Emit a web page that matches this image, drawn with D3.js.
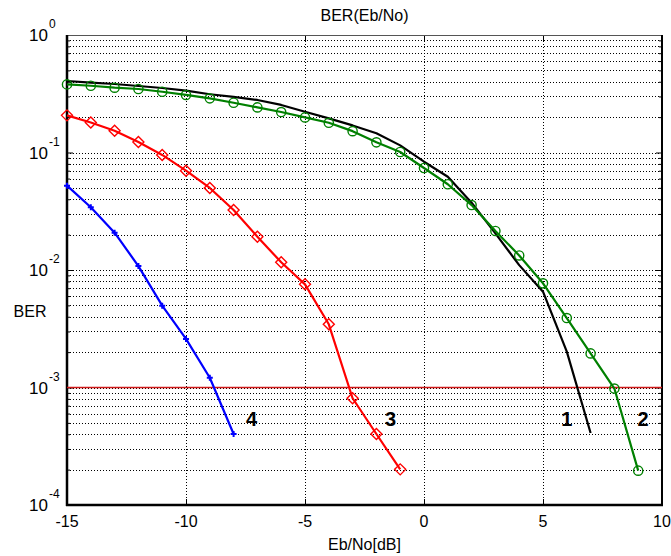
<!DOCTYPE html>
<html>
<head>
<meta charset="utf-8">
<script src="https://cdn.jsdelivr.net/npm/d3@7"></script>
<style>
  html, body { margin: 0; padding: 0; background: #fff; }
  svg { display: block; font-family: "Liberation Sans", Arial, Helvetica, sans-serif; }
</style>
</head>
<body>
<svg id="chart" width="671" height="556"></svg>
<script>
// ---- data ----
const ebno1 = [-15,-14,-13,-12,-11,-10,-9,-8,-7,-6,-5,-4,-3,-2,-1,0,1,2,3,4,5,6,7];
const ber1  = [0.406,0.394,0.383,0.368,0.354,0.336,0.313,0.297,0.280,0.254,0.222,0.195,0.170,0.146,0.115,0.0835,0.0622,0.0374,0.0205,0.0110,0.00654,0.00202,0.00041];

const ebno2 = [-15,-14,-13,-12,-11,-10,-9,-8,-7,-6,-5,-4,-3,-2,-1,0,1,2,3,4,5,6,7,8,9];
const ber2  = [0.380,0.370,0.356,0.347,0.329,0.309,0.289,0.265,0.242,0.221,0.199,0.179,0.152,0.122,0.101,0.0738,0.0537,0.0357,0.0215,0.0133,0.0077,0.0039,0.00195,0.00098,0.000196];

const ebno3 = [-15,-14,-13,-12,-11,-10,-9,-8,-7,-6,-5,-4,-3,-2,-1];
const ber3  = [0.207,0.180,0.153,0.123,0.0953,0.070,0.0499,0.0324,0.0192,0.01163,0.00755,0.00345,0.00081,0.000402,0.000201];

const ebno4 = [-15,-14,-13,-12,-11,-10,-9,-8];
const ber4  = [0.0522,0.0342,0.0208,0.0108,0.00497,0.00259,0.00121,0.000402];

const xTicks = [-15,-10,-5,0,5,10];
const xTickLabels = ["-15","-10","-5","0","5","10"];
const yMajor = [1e-4,1e-3,1e-2,1e-1,1];
const yExponents = ["-4","-3","-2","-1","0"];
const refLevel = 1e-3;
const curveLabels = ["1","2","3","4"];
const curveLabelX = [6.0, 9.2, -1.4, -7.25];
const curveLabelY = 4.7e-4;
const title = "BER(Eb/No)";
const xTitle = "Eb/No[dB]";
const yTitle = "BER";

// ---- layout ----
const L = 67, R = 662, T = 35, B = 505;
const svg = d3.select("#chart");
const x = d3.scaleLinear().domain([-15, 10]).range([L, R]);
const y = d3.scaleLog().domain([1e-4, 1]).range([B, T]);

const yMinor = [];
for (let e = -4; e < 0; e++) for (let m = 2; m <= 9; m++) yMinor.push(m * Math.pow(10, e));
const yAll = yMajor.concat(yMinor);

// grid
const grid = svg.append("g").attr("stroke", "#000").attr("stroke-width", 1).attr("stroke-dasharray", "1,2");
grid.selectAll("line.h").data(yAll.filter(v => v > 1e-4 && v < 1)).enter().append("line")
  .attr("x1", L).attr("x2", R)
  .attr("y1", d => Math.round(y(d)) + 0.5).attr("y2", d => Math.round(y(d)) + 0.5);
grid.selectAll("line.v").data(xTicks.filter(v => v > -15 && v < 10)).enter().append("line")
  .attr("y1", T).attr("y2", B)
  .attr("x1", d => Math.round(x(d)) + 0.5).attr("x2", d => Math.round(x(d)) + 0.5);

// ticks via axes (inward)
function tickAxis(axis, tx, ty) {
  const g = svg.append("g").attr("transform", `translate(${tx},${ty})`).call(axis);
  g.select(".domain").remove();
  g.selectAll("text").remove();
  g.selectAll("line").attr("stroke", "#000");
  return g;
}
tickAxis(d3.axisLeft(y).tickValues(yMinor).tickSize(-3).tickFormat(""), L, 0);
tickAxis(d3.axisLeft(y).tickValues(yMajor).tickSize(-6).tickFormat(""), L, 0);
tickAxis(d3.axisRight(y).tickValues(yMinor).tickSize(-3).tickFormat(""), R, 0);
tickAxis(d3.axisRight(y).tickValues(yMajor).tickSize(-6).tickFormat(""), R, 0);
tickAxis(d3.axisBottom(x).tickValues(xTicks).tickSize(-6).tickFormat(""), 0, B);
tickAxis(d3.axisTop(x).tickValues(xTicks).tickSize(-6).tickFormat(""), 0, T);

// frame
svg.append("line").attr("x1", L).attr("x2", R).attr("y1", T + 0.5).attr("y2", T + 0.5).attr("stroke", "#555").attr("stroke-width", 1);
svg.append("line").attr("x1", R).attr("x2", R).attr("y1", T).attr("y2", B + 1).attr("stroke", "#000").attr("stroke-width", 2);
svg.append("line").attr("x1", L).attr("x2", L).attr("y1", T).attr("y2", B + 1).attr("stroke", "#000").attr("stroke-width", 2.5);
svg.append("line").attr("x1", L - 1).attr("x2", R + 1).attr("y1", B).attr("y2", B).attr("stroke", "#000").attr("stroke-width", 2.5);

// reference line
svg.append("line").attr("x1", L).attr("x2", R)
  .attr("y1", y(refLevel)).attr("y2", y(refLevel))
  .attr("stroke", "#d01818").attr("stroke-width", 1.6);

// series
const line = d3.line().x(d => x(d[0])).y(d => y(d[1]));
function series(xs, ys, color) {
  const pts = xs.map((v, i) => [v, ys[i]]);
  svg.append("path").datum(pts).attr("d", line)
    .attr("fill", "none").attr("stroke", color).attr("stroke-width", 2.2).attr("stroke-linejoin", "round");
  return pts;
}
series(ebno1, ber1, "#000");
const p2 = series(ebno2, ber2, "#008000");
const p3 = series(ebno3, ber3, "#ff0000");
const p4 = series(ebno4, ber4, "#0000ff");

svg.append("g").selectAll("circle").data(p2).enter().append("circle")
  .attr("cx", d => x(d[0])).attr("cy", d => y(d[1])).attr("r", 4.6)
  .attr("fill", "none").attr("stroke", "#008000").attr("stroke-width", 1.4);
svg.append("g").selectAll("path").data(p3).enter().append("path")
  .attr("d", d => { const cx = x(d[0]), cy = y(d[1]), s = 5.5; return `M${cx},${cy - s}L${cx + s},${cy}L${cx},${cy + s}L${cx - s},${cy}Z`; })
  .attr("fill", "none").attr("stroke", "#ff0000").attr("stroke-width", 1.4);
svg.append("g").selectAll("path").data(p4).enter().append("path")
  .attr("d", d => { const cx = x(d[0]), cy = y(d[1]), s = 3; return `M${cx - s},${cy}L${cx + s},${cy}M${cx},${cy - s}L${cx},${cy + s}`; })
  .attr("fill", "none").attr("stroke", "#0000ff").attr("stroke-width", 2);

// tick labels
svg.append("g").selectAll("text").data(xTicks).enter().append("text")
  .attr("x", d => x(d)).attr("y", 527).attr("text-anchor", "middle")
  .attr("font-size", 16).text((d, i) => xTickLabels[i]);

const yl = svg.append("g");
yMajor.forEach((v, i) => {
  const ty = y(v);
  yl.append("text").attr("x", 48).attr("y", ty + 6).attr("text-anchor", "end").attr("font-size", 17).text("10");
  yl.append("text").attr("x", 49).attr("y", ty - 7).attr("text-anchor", "start").attr("font-size", 12).text(yExponents[i]);
});

// titles
svg.append("text").attr("x", (L + R) / 2).attr("y", 21).attr("text-anchor", "middle").attr("font-size", 16).text(title);
svg.append("text").attr("x", (L + R) / 2).attr("y", 550).attr("text-anchor", "middle").attr("font-size", 16).text(xTitle);
svg.append("text").attr("x", 30).attr("y", 317).attr("text-anchor", "middle").attr("font-size", 16).text(yTitle);

// curve labels
svg.append("g").selectAll("text").data(curveLabels).enter().append("text")
  .attr("x", (d, i) => x(curveLabelX[i])).attr("y", y(curveLabelY))
  .attr("text-anchor", "middle").attr("font-size", 20).attr("font-weight", "bold").text(d => d);
</script>
</body>
</html>
